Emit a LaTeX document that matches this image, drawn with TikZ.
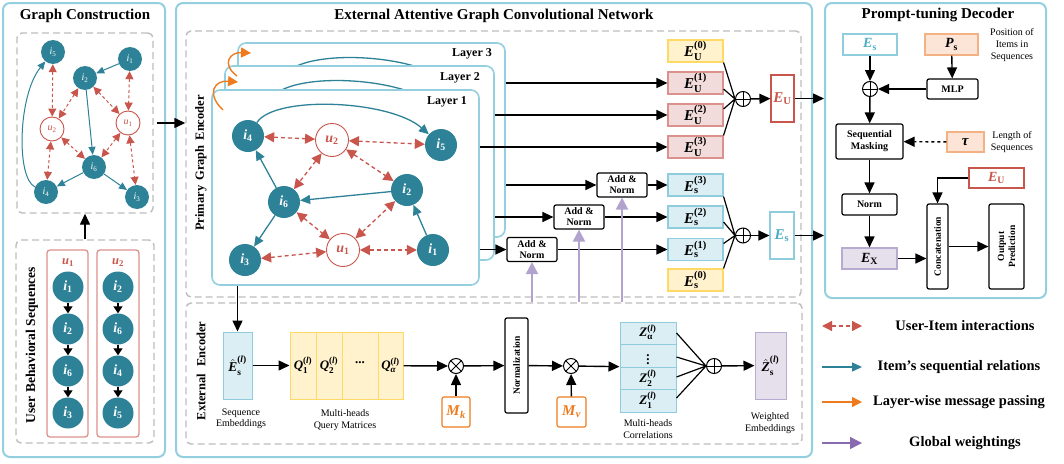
\documentclass[tikz,border=0pt]{standalone}
\usepackage{fontspec}
\usepackage{amsmath}
\setmainfont{Liberation Serif}
\usetikzlibrary{arrows.meta}

\definecolor{tealc}{HTML}{2E8298}
\definecolor{redc}{HTML}{C9564C}
\definecolor{panelc}{HTML}{93CFDE}
\definecolor{dashc}{HTML}{BDBDBD}
\definecolor{orangec}{HTML}{EE7B1E}
\definecolor{purplel}{HTML}{B2A3CE}
\definecolor{purpled}{HTML}{8A6AAE}
\definecolor{fillY}{HTML}{FFF2CC}
\definecolor{lineY}{HTML}{FFD966}
\definecolor{fillR}{HTML}{F2DCDB}
\definecolor{lineR}{HTML}{DB918C}
\definecolor{fillB}{HTML}{DAEEF3}
\definecolor{lineB}{HTML}{8FCCDD}
\definecolor{textB}{HTML}{4BACC6}
\definecolor{fillP}{HTML}{E5E0EC}
\definecolor{lineP}{HTML}{B8ABD0}
\definecolor{fillO}{HTML}{FCE4D6}
\definecolor{lineO}{HTML}{F4B183}

\newcommand{\fsz}[2]{\fontsize{#1}{#2}\selectfont}
\newcommand{\itm}[1]{\textit{i}\textsubscript{#1}}
\newcommand{\Vb}[1]{\textbf{\textit{#1}}}
\newcommand{\Emb}[2]{$\Vb{E}^{\textbf{(#2)}}_{\textbf{#1}}$}

\begin{document}
\begin{tikzpicture}[x=1pt, y=-1pt,
    panel/.style={draw=panelc, line width=2pt, rounded corners=7pt},
    dbox/.style={draw=dashc, line width=1.4pt, dash pattern=on 7pt off 4pt, rounded corners=5pt},
    ttl/.style={font=\bfseries\fsz{15}{17}},
    note/.style={font=\fsz{10}{11.5}, align=center},
    vtxt/.style={font=\bfseries\fsz{12.5}{14}, rotate=90},
    itm/.style={circle, fill=tealc, text=white, inner sep=0pt, minimum size=#1},
    usr/.style={circle, draw=redc, fill=white, text=redc, line width=0.9pt, inner sep=0pt, minimum size=#1},
    seqe/.style={draw=tealc, line width=1.3pt, -{Triangle[length=10pt,width=9pt]}},
    uie/.style={draw=redc, line width=1.3pt, dash pattern=on 4pt off 3pt, {Triangle[length=10pt,width=10pt]}-{Triangle[length=10pt,width=10pt]}},
    gseq/.style={draw=tealc, line width=1pt, -{Triangle[length=8pt,width=7pt]}},
    gui/.style={draw=redc, line width=1pt, dash pattern=on 3pt off 2.5pt, {Triangle[length=8pt,width=8pt]}-{Triangle[length=8pt,width=8pt]}},
    arr/.style={line width=1.4pt, -{Triangle[length=11pt,width=10pt]}},
    sarr/.style={line width=1.2pt, -{Triangle[length=7pt,width=9pt]}},
    parr/.style={draw=purplel, line width=2.2pt, -{Triangle[length=12pt,width=12pt]}},
    oarr/.style={draw=orangec, line width=1.4pt, -{Triangle[length=10pt,width=10pt]}},
    ebox/.style={minimum width=55pt, minimum height=22pt, line width=1.1pt, inner sep=0pt, font=\fsz{15}{16}},
    opbox/.style={draw, rounded corners=2pt, line width=1.2pt, align=center, inner sep=1pt, font=\bfseries\fsz{10}{11}},
    laybox/.style={draw=panelc, fill=white, line width=1.6pt, rounded corners=8pt},
    oplus/.style={circle, draw, fill=white, line width=1pt, minimum size=15pt, inner sep=0pt,
        path picture={\draw[line width=0.9pt] (path picture bounding box.north) -- (path picture bounding box.south)
            (path picture bounding box.west) -- (path picture bounding box.east);}},
    otimes/.style={circle, draw, fill=white, line width=1pt, minimum size=15pt, inner sep=0pt,
        path picture={\draw[line width=0.9pt] (path picture bounding box.north west) -- (path picture bounding box.south east)
            (path picture bounding box.south west) -- (path picture bounding box.north east);}}
  ]
  \useasboundingbox (0,0) rectangle (1064,463);

  % ---------- graph construction ----------
  \draw[panel] (3,3) rectangle (165,457);
  \node[ttl] (gct) at (85,16) {Graph Construction};
  \node[dbox, minimum width=136pt, minimum height=180pt] (gcg) at (85,123) {};
  \node[dbox, minimum width=138pt, minimum height=203pt] (gcs) at (85,341.5) {};

  \begin{scope}[every node/.append style={font=\fsz{10}{10}}]
    \node[itm=24pt] (g5) at (53,52)  {\itm{5}};
    \node[itm=24pt] (g1) at (130,59) {\itm{1}};
    \node[itm=24pt] (g2) at (85,78)  {\itm{2}};
    \node[usr=24pt] (gu2) at (52,129) {\textit{u}\textsubscript{2}};
    \node[usr=24pt] (gu1) at (128,123) {\textit{u}\textsubscript{1}};
    \node[itm=24pt] (g6) at (94,167) {\itm{6}};
    \node[itm=24pt] (g4) at (46,192) {\itm{4}};
    \node[itm=24pt] (g3) at (137,197) {\itm{3}};
  \end{scope}

  \draw[gseq] (g1) -- (g2);
  \draw[gseq] (g2) -- (g6);
  \draw[gseq] (g6) -- (g4);
  \draw[gseq] (g6) -- (g3);
  \draw[gseq] (g4) .. controls (16,178) and (18,95) .. (g5);
  \foreach \a/\b in {g5/gu2, g2/gu2, g2/gu1, g1/gu1, gu2/g6, gu1/g6, gu2/g4, gu1/g3}
      \draw[gui] (\a) -- (\b);

  % user behavioral sequences
  \node[vtxt, font=\bfseries\fsz{13.5}{15}] (ubs) at (32,345) {User Behavioral Sequences};
  \node[draw=lineR, line width=1.3pt, rounded corners=3pt, minimum width=41pt, minimum height=187pt] (su1) at (67.5,343.5) {};
  \node[draw=lineR, line width=1.3pt, rounded corners=3pt, minimum width=42pt, minimum height=187pt] (su2) at (118,343.5) {};
  \node[text=redc, font=\fsz{12.5}{12}] (lu1) at (68,263) {\Vb{u}\textsubscript{\textbf{1}}};
  \node[text=redc, font=\fsz{12.5}{12}] (lu2) at (118,263) {\Vb{u}\textsubscript{\textbf{2}}};
  \foreach \lab [count=\k] in {1,2,6,3}
      \node[itm=31pt, font=\bfseries\fsz{14}{14}] (sa\k) at (68,245+42*\k) {\itm{\lab}};
  \foreach \lab [count=\k] in {2,6,4,5}
      \node[itm=31pt, font=\bfseries\fsz{14}{14}] (sb\k) at (118,245+42*\k) {\itm{\lab}};
  \foreach \k/\n in {1/2,2/3,3/4} {
      \draw[sarr] (sa\k) -- (sa\n);
      \draw[sarr] (sb\k) -- (sb\n);
  }

  \draw[arr] (gcs.north) -- (gcg.south);

  % ---------- external attentive GCN ----------
  \draw[panel] (176,3) rectangle (812,457);
  \node[ttl] (eat) at (494,16) {External Attentive Graph Convolutional Network};
  \node[dbox, minimum width=615pt, minimum height=266pt] (ptop) at (493.5,164) {};
  \node[dbox, minimum width=616pt, minimum height=141pt] (pbot) at (494,373.5) {};

  \draw[arr] ([xshift=3pt]gcg.east) -- (ptop.west |- gcg.east);

  \node[vtxt] (pge) at (201,163) {Primary\hspace{5pt}Graph\hspace{5pt}Encoder};
  \node[vtxt] (exe) at (201,371) {External\hspace{7pt}Encoder};

  % stacked layers
  \node[laybox, minimum width=267pt, minimum height=194pt] (lay3) at (371.5,140) {};
  \draw[tealc, line width=1.3pt, shift={(26,-47)}] (258,123) .. controls (275,95) and (390,100) .. (423,130);
  \node[font=\bfseries\fsz{12}{12}] (l3) at (472,54) {Layer 3};
  \node[laybox, minimum width=269pt, minimum height=194pt] (lay2) at (359.5,163) {};
  \draw[tealc, line width=1.3pt, shift={(13,-24)}] (258,123) .. controls (275,95) and (390,100) .. (423,130);
  \node[font=\bfseries\fsz{12}{12}] (l2) at (460,78) {Layer 2};
  \node[laybox, minimum width=267pt, minimum height=195pt] (lay1) at (345.5,187.5) {};
  \node[font=\bfseries\fsz{12}{12}] (l1) at (447,102) {Layer 1};

  \draw[oarr] (223,110) .. controls (206,94) and (214,80) .. (238,82);
  \draw[oarr] (237,76) .. controls (221,64) and (230,52) .. (251,53);

  \begin{scope}[every node/.append style={font=\bfseries\fsz{14}{14}}]
    \node[itm=32pt] (i4) at (248,136) {\itm{4}};
    \node[usr=33pt] (u2) at (332,140) {\textit{u}\textsubscript{2}};
    \node[itm=32pt] (i5) at (441,145) {\itm{5}};
    \node[itm=32pt] (i6) at (284,202) {\itm{6}};
    \node[itm=32pt] (i2) at (407,190) {\itm{2}};
    \node[itm=32pt] (i3) at (245,260) {\itm{3}};
    \node[usr=33pt] (u1) at (343,250) {\textit{u}\textsubscript{1}};
    \node[itm=32pt] (i1) at (433,250) {\itm{1}};
  \end{scope}

  \draw[seqe] (i4) .. controls (275,95) and (390,100) .. (i5);
  \draw[seqe] (i6) -- (i4);
  \draw[seqe] (i2) -- (i6);
  \draw[seqe] (i6) -- (i3);
  \draw[seqe] (i1) -- (i2);
  \foreach \a/\b in {i4/u2, u2/i5, u2/i6, u2/i2, i6/u1, u1/i2, i3/u1, u1/i1}
      \draw[uie] (\a) -- (\b);

  % layer outputs
  \node[ebox, fill=fillY, draw=lineY] (eu0) at (695.5,51)  {\Emb{U}{0}};
  \node[ebox, fill=fillR, draw=lineR] (eu1) at (695.5,83)  {\Emb{U}{1}};
  \node[ebox, fill=fillR, draw=lineR] (eu2) at (695.5,115) {\Emb{U}{2}};
  \node[ebox, fill=fillR, draw=lineR] (eu3) at (695.5,147) {\Emb{U}{3}};
  \node[ebox, fill=fillB, draw=lineB] (es3) at (695.5,185) {\Emb{s}{3}};
  \node[ebox, fill=fillB, draw=lineB] (es2) at (695.5,217) {\Emb{s}{2}};
  \node[ebox, fill=fillB, draw=lineB] (es1) at (695.5,249.5) {\Emb{s}{1}};
  \node[ebox, fill=fillY, draw=lineY] (es0) at (695.5,280) {\Emb{s}{0}};

  \node[opbox, minimum width=50pt, minimum height=24pt] (an3) at (622,185) {Add \&\\Norm};
  \node[opbox, minimum width=50pt, minimum height=24pt] (an2) at (579,217) {Add \&\\Norm};
  \node[opbox, minimum width=50pt, minimum height=24pt] (an1) at (532,249.5) {Add \&\\Norm};

  \draw[arr] (lay3.east |- eu1) -- (eu1);
  \draw[arr] (lay2.east |- eu2) -- (eu2);
  \draw[arr] (lay1.east |- eu3) -- (eu3);
  \draw[arr] (lay3.east |- an3) -- (an3);
  \draw[arr] (lay2.east |- an2) -- (an2);
  \draw[arr] (lay1.east |- an1) -- (an1);
  \draw[arr] (an3) -- (es3);
  \draw[arr] (an2) -- (es2);
  \draw[arr] (an1) -- (es1);

  \draw[parr] (an1.south |- pbot.north) -- (an1.south);
  \draw[parr] (an2.south |- pbot.north) -- (an2.south);
  \draw[parr] (an3.south |- pbot.north) -- (an3.south);

  \node[oplus] (opu) at (743,99) {};
  \node[oplus] (ops) at (743,235.5) {};
  \draw[line width=1.2pt] (eu0.south east) -- (opu.west)
      ([yshift=-6pt]eu1.east) -- (opu.west)
      ([yshift=6pt]eu2.east) -- (opu.west)
      (eu3.north east) -- (opu.west);
  \draw[line width=1.2pt] (es3.south east) -- (ops.west)
      ([yshift=-5pt]es2.east) -- (ops.west)
      ([yshift=6pt]es1.east) -- (ops.west)
      (es0.north east) -- (ops.west);

  \node[draw=redc, fill=white, line width=1.1pt, minimum width=23pt, minimum height=47pt, inner sep=0pt,
        text=redc, font=\fsz{15}{16}] (eub) at (782.5,98.5) {$\Vb{E}_{\textbf{U}}$};
  \node[draw=lineB, fill=white, line width=1.1pt, minimum width=24pt, minimum height=47pt, inner sep=0pt,
        text=textB, font=\fsz{15}{16}] (esb) at (782,235.5) {$\Vb{E}_{\textbf{s}}$};
  \draw[arr] (opu) -- (eub);
  \draw[arr] (ops) -- (esb);

  % external encoder
  \node[fill=fillB, draw=lineB, line width=1pt, minimum width=29pt, minimum height=67pt, inner sep=0pt,
        font=\fsz{13.5}{13}] (esh) at (237.5,365.5) {$\hat{\Vb{E}}^{\textbf{(\textit{l})}}_{\textbf{s}}$};
  \node[note] (nse) at (241,419) {Sequence\\Embeddings};
  \draw[arr] (lay1.south -| esh) -- (esh);

  \node[fill=fillY, draw=lineY, line width=1pt, minimum width=113pt, minimum height=67pt, inner sep=0pt] (qall) at (346.5,365.5) {};
  \draw[lineY, line width=1pt] (316,332) -- (316,399) (342,332) -- (342,399) (378,332) -- (378,399);
  \begin{scope}[every node/.append style={font=\fsz{13}{13}, inner sep=0pt}]
    \node (q1) at (303,365.5) {$\Vb{Q}^{\textbf{(\textit{l})}}_{\textbf{1}}$};
    \node (q2) at (329,365.5) {$\Vb{Q}^{\textbf{(\textit{l})}}_{\textbf{2}}$};
    \node (qd) at (360,363) {\textbf{...}};
    \node (qa) at (390.5,365.5) {$\Vb{Q}^{\textbf{(\textit{l})}}_{\Vb{α}}$};
  \end{scope}
  \node[note] (nqm) at (345,420) {Multi-heads\\Query Matrices};
  \draw[arr] (esh) -- (qall);

  \node[otimes] (ot1) at (456,366) {};
  \node[draw=orangec, fill=white, line width=1.1pt, rounded corners=2pt, minimum width=28pt, minimum height=30pt,
        inner sep=0pt, text=orangec, font=\fsz{15}{15}] (mk) at (456,412) {$\Vb{M}_{\Vb{k}}$};
  \draw[arr] (qall) -- (ot1);
  \draw[arr] (mk) -- (ot1);

  \node[opbox, minimum width=23pt, minimum height=95pt] (nrm) at (516.5,365.5) {};
  \node[rotate=90, font=\bfseries\fsz{9.5}{10}] (nrmt) at (nrm) {Normalization};
  \draw[arr] (ot1) -- (nrm);

  \node[otimes] (ot2) at (571,366) {};
  \node[draw=orangec, fill=white, line width=1.1pt, rounded corners=2pt, minimum width=29pt, minimum height=30pt,
        inner sep=0pt, text=orangec, font=\fsz{15}{15}] (mv) at (571.5,412) {$\Vb{M}_{\Vb{v}}$};
  \draw[arr] (nrm) -- (ot2);
  \draw[arr] (mv) -- (ot2);

  \node[fill=fillB, draw=lineB, line width=1pt, minimum width=56pt, minimum height=90pt, inner sep=0pt] (zall) at (648,367) {};
  \draw[lineB, line width=1pt] (620,344.5) -- (676,344.5) (620,367) -- (676,367) (620,389.5) -- (676,389.5);
  \begin{scope}[every node/.append style={font=\fsz{13}{13}, inner sep=0pt}]
    \node (za) at (648,332.5) {$\Vb{Z}^{\textbf{(\textit{l})}}_{\textbf{α}}$};
    \node (zd) at (648,357) {\textbf{$\vdots$}};
    \node (z2) at (648,378) {$\Vb{Z}^{\textbf{(\textit{l})}}_{\textbf{2}}$};
    \node (z1) at (648,400.5) {$\Vb{Z}^{\textbf{(\textit{l})}}_{\textbf{1}}$};
  \end{scope}
  \node[note] (nmc) at (648,429) {Multi-heads\\Correlations};
  \draw[arr] (ot2) -- (zall);

  \node[oplus] (op3) at (714,366) {};
  \draw[line width=1.2pt] ([yshift=34pt]zall.east) -- (op3.west)
      ([yshift=10pt]zall.east) -- (op3.west)
      ([yshift=-10pt]zall.east) -- (op3.west)
      ([yshift=-31pt]zall.east) -- (op3.west);
  \node[fill=fillP, draw=lineP, line width=1pt, minimum width=31pt, minimum height=67pt, inner sep=0pt,
        font=\fsz{13.5}{13}] (zh) at (770.5,365.5) {$\hat{\Vb{Z}}^{\textbf{(\textit{l})}}_{\textbf{s}}$};
  \node[note] (nwe) at (770,423) {Weighted\\Embeddings};
  \draw[arr] (op3) -- (zh);

  % ---------- prompt-tuning decoder ----------
  \node[panel, minimum width=221pt, minimum height=295pt] (dec) at (935.5,150.5) {};
  \node[ttl] (dect) at (938,15) {Prompt-tuning Decoder};

  \draw[arr] (eub) -- (dec.west |- eub);
  \draw[arr] (esb) -- (dec.west |- esb);

  \node[draw=lineB, line width=1.1pt, minimum width=54pt, minimum height=21pt, inner sep=0pt,
        text=textB, font=\fsz{14}{14}] (des) at (870,44.5) {$\Vb{E}_{\textbf{s}}$};
  \node[fill=fillO, draw=lineO, line width=1.1pt, minimum width=53pt, minimum height=21pt, inner sep=0pt,
        font=\fsz{14}{14}] (dps) at (951.5,44.5) {$\Vb{P}_{\textbf{s}}$};
  \node[note, font=\fsz{10}{12}] (npos) at (1012,45) {Position of\\Items in\\Sequences};
  \node[oplus] (dop) at (870,89) {};
  \node[opbox, minimum width=51pt, minimum height=20pt] (mlp) at (952.5,89) {MLP};
  \node[opbox, minimum width=67pt, minimum height=35pt, font=\bfseries\fsz{10}{12}] (msk) at (869.5,141.5) {Sequential\\Masking};
  \node[fill=fillO, draw=lineO, line width=1.1pt, minimum width=37pt, minimum height=20pt, inner sep=0pt,
        font=\fsz{15}{15}] (tau) at (965.5,142) {\Vb{τ}};
  \node[note, font=\fsz{10}{12}] (nlen) at (1012,142) {Length of\\Sequences};
  \node[opbox, minimum width=55pt, minimum height=21pt] (dnorm) at (869.5,204.5) {Norm};
  \node[fill=fillP, draw=lineP, line width=1.1pt, minimum width=55pt, minimum height=21pt, inner sep=0pt,
        font=\fsz{14}{14}] (dex) at (869.5,258.5) {$\Vb{E}_{\textbf{X}}$};
  \node[draw=redc, line width=1.1pt, minimum width=55pt, minimum height=20pt, inner sep=0pt,
        text=redc, font=\fsz{14}{14}] (deu) at (996.5,178) {$\Vb{E}_{\textbf{U}}$};
  \node[opbox, minimum width=21pt, minimum height=85pt] (cat) at (937.5,246.5) {};
  \node[rotate=90, font=\bfseries\fsz{9.5}{10}] (catt) at (cat) {Concatenation};
  \node[opbox, minimum width=35pt, minimum height=85pt] (outp) at (1006.5,246.5) {};
  \node[rotate=90, font=\bfseries\fsz{9.5}{11}, align=center] (outpt) at (outp) {Output\\Prediction};

  \draw[arr] (des) -- (dop);
  \draw[arr] (dps) -- (mlp);
  \draw[arr] (mlp) -- (dop);
  \draw[arr] (dop) -- (msk);
  \draw[arr, dashed] (tau) -- (msk);
  \draw[arr] (msk) -- (dnorm);
  \draw[arr] (dnorm) -- (dex);
  \draw[arr] (deu.west) -| (cat.north);
  \draw[arr] (dex) -- (cat.west |- dex);
  \draw[arr] (cat) -- (outp);

  % ---------- legend ----------
  \coordinate (lg1a) at (822,326);  \coordinate (lg1b) at (862,326);
  \coordinate (lg2a) at (822,367);  \coordinate (lg2b) at (862,367);
  \coordinate (lg3a) at (822,402);  \coordinate (lg3b) at (862,402);
  \coordinate (lg4a) at (822,443);  \coordinate (lg4b) at (862,443);
  \draw[uie] (lg1a) -- (lg1b);
  \draw[seqe] (lg2a) -- (lg2b);
  \draw[oarr] (lg3a) -- (lg3b);
  \draw[parr, draw=purpled, line width=1.4pt] (lg4a) -- (lg4b);
  \begin{scope}[every node/.append style={font=\bfseries\fsz{14.5}{14.5}}]
    \node (tl1) at (965,326) {User-Item interactions};
    \node (tl2) at (959,367) {Item’s sequential relations};
    \node (tl3) at (959,402) {Layer-wise message passing};
    \node (tl4) at (965,443) {Global weightings};
  \end{scope}
\end{tikzpicture}
\end{document}
